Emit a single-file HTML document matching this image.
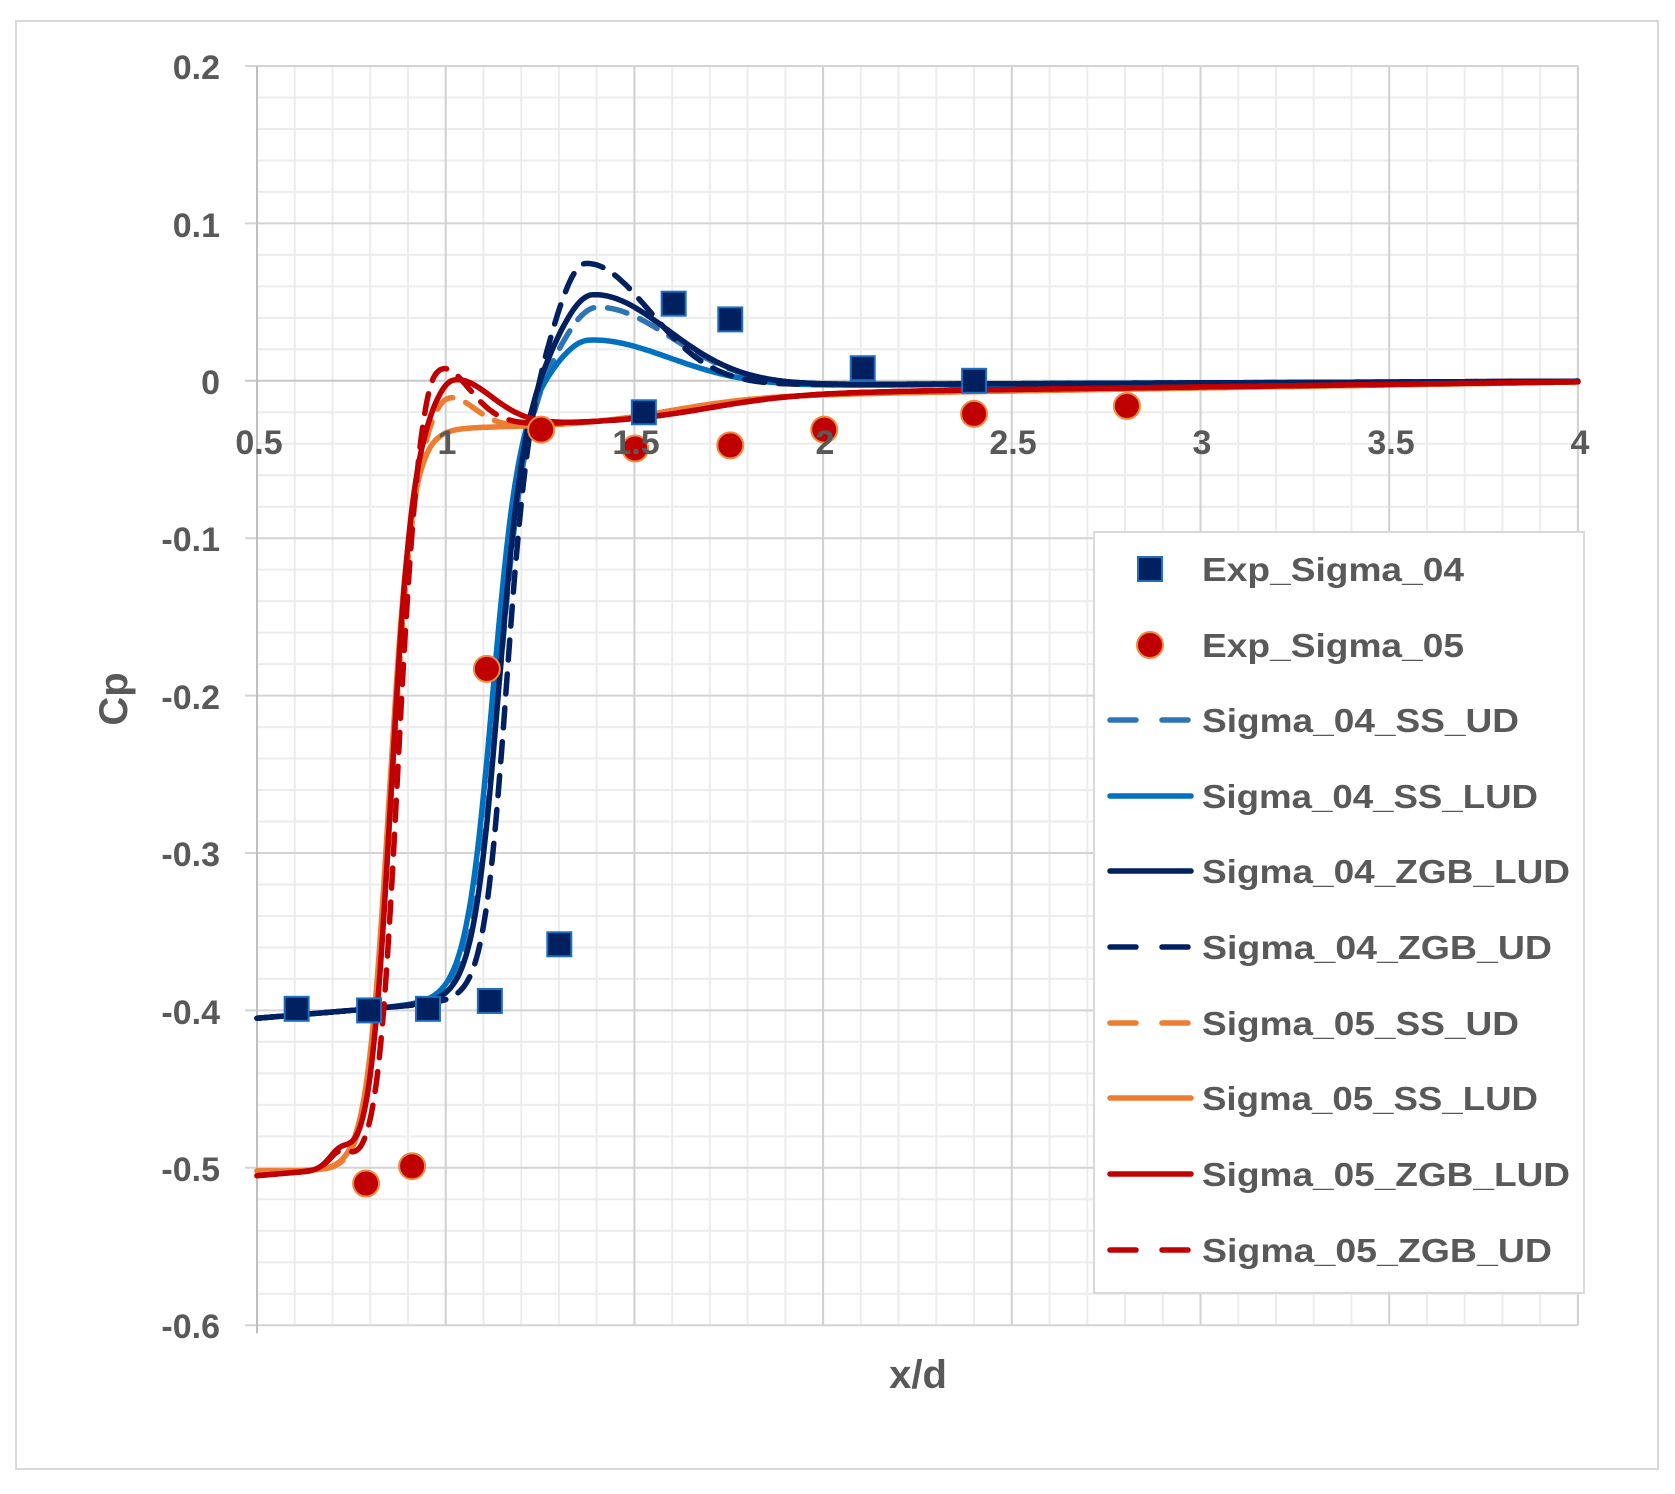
<!DOCTYPE html>
<html><head><meta charset="utf-8"><style>
html,body{margin:0;padding:0;background:#fff;}
svg{display:block;}
text{font-family:"Liberation Sans",sans-serif;font-weight:bold;fill:#595959;}
</style></head><body>
<svg id="s" width="1675" height="1494" viewBox="0 0 1675 1494" xmlns="http://www.w3.org/2000/svg">
<rect x="0" y="0" width="1675" height="1494" fill="#fff"/>
<rect x="16" y="21" width="1642" height="1448" fill="#fff" stroke="#d9d9d9" stroke-width="2"/>
<g id="grid"></g>
<g id="curves"></g>
<g id="marks"></g>
<g font-size="34">
<text x="220" y="79" text-anchor="end">0.2</text>
<text x="220" y="237" text-anchor="end">0.1</text>
<text x="220" y="394" text-anchor="end">0</text>
<text x="220" y="551" text-anchor="end">-0.1</text>
<text x="220" y="709" text-anchor="end">-0.2</text>
<text x="220" y="866" text-anchor="end">-0.3</text>
<text x="220" y="1024" text-anchor="end">-0.4</text>
<text x="220" y="1181" text-anchor="end">-0.5</text>
<text x="220" y="1338" text-anchor="end">-0.6</text>
<text x="259" y="454" text-anchor="middle">0.5</text>
<text x="447" y="454" text-anchor="middle">1</text>
<text x="636" y="454" text-anchor="middle">1.5</text>
<text x="825" y="454" text-anchor="middle">2</text>
<text x="1013" y="454" text-anchor="middle">2.5</text>
<text x="1202" y="454" text-anchor="middle">3</text>
<text x="1391" y="454" text-anchor="middle">3.5</text>
<text x="1580" y="454" text-anchor="middle">4</text>
</g>
<text x="918" y="1388" font-size="40" text-anchor="middle">x/d</text>
<text transform="translate(127,699) rotate(-90)" font-size="40" text-anchor="middle">Cp</text>
<rect x="1094" y="532" width="490" height="761" fill="#fff" stroke="#d9d9d9" stroke-width="2"/>
<g id="leg"></g>
<g font-size="33">
<text x="1202" y="581" textLength="262" lengthAdjust="spacingAndGlyphs">Exp_Sigma_04</text>
<text x="1202" y="657" textLength="262" lengthAdjust="spacingAndGlyphs">Exp_Sigma_05</text>
<text x="1202" y="732" textLength="317" lengthAdjust="spacingAndGlyphs">Sigma_04_SS_UD</text>
<text x="1202" y="808" textLength="336" lengthAdjust="spacingAndGlyphs">Sigma_04_SS_LUD</text>
<text x="1202" y="883" textLength="368" lengthAdjust="spacingAndGlyphs">Sigma_04_ZGB_LUD</text>
<text x="1202" y="959" textLength="350" lengthAdjust="spacingAndGlyphs">Sigma_04_ZGB_UD</text>
<text x="1202" y="1035" textLength="317" lengthAdjust="spacingAndGlyphs">Sigma_05_SS_UD</text>
<text x="1202" y="1110" textLength="336" lengthAdjust="spacingAndGlyphs">Sigma_05_SS_LUD</text>
<text x="1202" y="1186" textLength="368" lengthAdjust="spacingAndGlyphs">Sigma_05_ZGB_LUD</text>
<text x="1202" y="1262" textLength="350" lengthAdjust="spacingAndGlyphs">Sigma_05_ZGB_UD</text>
</g>
</svg>
<script>
(function(){
var NS="http://www.w3.org/2000/svg";
function X(v){return 257+(v-0.5)/0.5*188.7;}
function Y(v){return 66+(0.2-v)*1574;}
function el(p,t,a){var e=document.createElementNS(NS,t);for(var k in a)e.setAttribute(k,a[k]);p.appendChild(e);return e;}
var g=document.getElementById('grid');
for(var i=0;i<=35;i++){var xv=0.5+i*0.1;if(i%5)el(g,'line',{x1:X(xv),x2:X(xv),y1:Y(0.2),y2:Y(-0.6),stroke:'#ececec','stroke-width':2});}
for(var j=0;j<=40;j++){var yv=0.2-j*0.02;if(j%5)el(g,'line',{x1:X(0.5),x2:X(4),y1:Y(yv),y2:Y(yv),stroke:'#ececec','stroke-width':2});}
for(var i=0;i<=7;i++){var xv=0.5+i*0.5;el(g,'line',{x1:X(xv),x2:X(xv),y1:Y(0.2),y2:Y(-0.6),stroke:'#d0d0d0','stroke-width':2});}
for(var j=0;j<=8;j++){var yv=0.2-j*0.1;el(g,'line',{x1:X(0.5)-12,x2:X(4),y1:Y(yv),y2:Y(yv),stroke:(j==2?'#c8c8c8':'#d4d4d4'),'stroke-width':2});}
el(g,'line',{x1:X(0.5),x2:X(0.5),y1:Y(0.2),y2:Y(-0.6)+8,stroke:'#bfbfbf','stroke-width':2});
function sig(z){return 1/(1+Math.exp(-z));}
function mk(p){return function(x){
 var s=sig((x-p.x0)/p.w);
 var low=p.low+p.ls*(x-0.5);
 if(p.wig) low+=p.wig*Math.exp(-Math.pow((x-0.72)/0.04,2));
 var d=x-p.xp, sg=d<0?p.sl:p.sr;
 var P=p.A*Math.exp(-d*d/(sg*sg));
 var tail=p.tail*(4.2-x)/3.7;
 if(p.plat){P+=p.plat*sig((p.pe-x)/0.12);}
 return low*(1-s)+s*(P+tail);
};}
var series=[
 {c:'#2e75b6',d:'20 14',p:{low:-0.405,ls:0.02,x0:1.14,w:0.036,A:0.05,xp:1.4,sl:0.13,sr:0.28,tail:-0.004}},
 {c:'#0070c0',d:'',p:{low:-0.405,ls:0.02,x0:1.125,w:0.036,A:0.03,xp:1.38,sl:0.12,sr:0.3,tail:-0.005}},
 {c:'#002060',d:'',p:{low:-0.405,ls:0.02,x0:1.14,w:0.034,A:0.058,xp:1.39,sl:0.13,sr:0.28,tail:-0.004}},
 {c:'#002060',d:'20 14',p:{low:-0.405,ls:0.02,x0:1.16,w:0.03,A:0.078,xp:1.37,sl:0.11,sr:0.24,tail:-0.004}},
 {c:'#ed7d31',d:'20 14',p:{low:-0.502,ls:0.0,x0:0.855,w:0.03,A:0.022,xp:1.0,sl:0.07,sr:0.1,tail:-0.014,plat:-0.018,pe:1.6}},
 {c:'#ed7d31',d:'',p:{low:-0.502,ls:0.0,x0:0.85,w:0.03,A:0.0,xp:1.0,sl:0.06,sr:0.1,tail:-0.014,plat:-0.018,pe:1.6}},
 {c:'#c00000',d:'',p:{low:-0.505,ls:0.02,wig:0.01,x0:0.855,w:0.028,A:0.03,xp:1.02,sl:0.08,sr:0.14,tail:-0.012,plat:-0.018,pe:1.7}},
 {c:'#c00000',d:'20 14',p:{low:-0.505,ls:0.02,wig:0.01,x0:0.87,w:0.026,A:0.042,xp:0.97,sl:0.06,sr:0.12,tail:-0.012,plat:-0.018,pe:1.7}}
];
var cg=document.getElementById('curves');
series.forEach(function(s){
 var f=mk(s.p),pts=[];
 for(var x=0.5;x<=4.0001;x+=0.004){pts.push(X(x).toFixed(1)+','+Y(f(x)).toFixed(1));}
 var a={points:pts.join(' '),fill:'none',stroke:s.c,'stroke-width':5.5,'stroke-linejoin':'round','stroke-linecap':'round'};
 if(s.d)a['stroke-dasharray']=s.d;
 el(cg,'polyline',a);
});
var m=document.getElementById('marks');
var sq=[[0.605,-0.399],[0.797,-0.40],[0.953,-0.399],[1.117,-0.394],[1.301,-0.358],[1.525,-0.020],[1.604,0.049],[1.754,0.039],[2.105,0.008],[2.40,0]];
var ci=[[0.789,-0.51],[0.911,-0.499],[1.109,-0.183],[1.253,-0.031],[1.502,-0.043],[1.754,-0.041],[2.003,-0.031],[2.40,-0.021],[2.805,-0.016]];
sq.forEach(function(p){el(m,'rect',{x:X(p[0])-12,y:Y(p[1])-12,width:24,height:24,fill:'#002060',stroke:'#1f6fc0','stroke-width':2});});
ci.forEach(function(p){el(m,'circle',{cx:X(p[0]),cy:Y(p[1]),r:13,fill:'#c00000',stroke:'#f08a3c','stroke-width':2});});
var L=document.getElementById('leg');
el(L,'rect',{x:1138,y:557,width:24,height:24,fill:'#002060',stroke:'#1f6fc0','stroke-width':2});
el(L,'circle',{cx:1150,cy:645,r:13,fill:'#c00000',stroke:'#f08a3c','stroke-width':2});
var ly=[720,796,871,947,1023,1098,1174,1250];
series.forEach(function(s,i){var a={x1:1110,x2:1191,y1:ly[i],y2:ly[i],stroke:s.c,'stroke-width':5.5,'stroke-linecap':'round'};if(s.d)a['stroke-dasharray']='26 26';el(L,'line',a);});
})();
</script>
</body></html>
